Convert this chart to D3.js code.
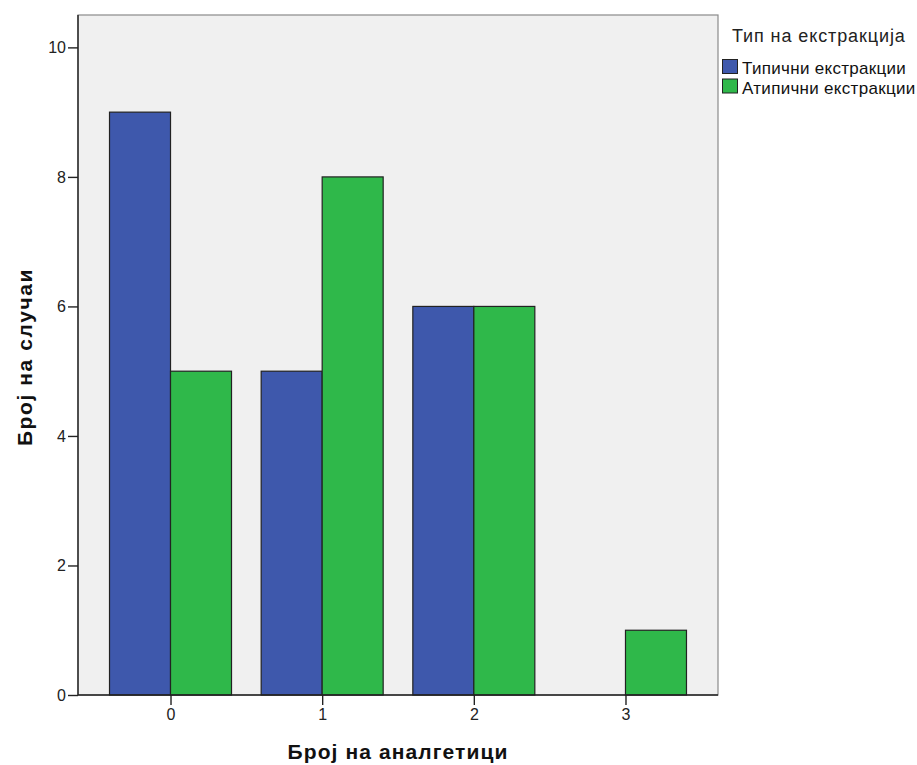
<!DOCTYPE html>
<html><head><meta charset="utf-8">
<script src="https://cdn.jsdelivr.net/npm/d3@7"></script>
<style>body{margin:0;background:#fff;} text{font-family:Arial,"Liberation Sans",sans-serif;}</style>
</head><body><svg id="c" width="917" height="765"></svg>
<script>
const categories = ["0","1","2","3"];
const seriesNames = ["Типични екстракции","Атипични екстракции"];
const typical = [9,5,6,0];
const atypical = [5,8,6,1];
const yTicks = [0,2,4,6,8,10];
const colors = ["#3e58ac","#2fb84a"];

const svg = d3.select("#c");
const L=78,R=718,T=15,B=695;
svg.append("rect").attr("x",L).attr("y",T).attr("width",R-L).attr("height",B-T).attr("fill","#f0f0f0").attr("stroke","#8a8a8a").attr("stroke-width",1.2);
const x = d3.scalePoint().domain(categories).range([L,R]).padding(0.61);
const y = d3.scaleLinear().domain([0,10.5]).range([B,T]);
const bw = 61;
const series=[typical,atypical];
series.forEach((vals,si)=>{
  svg.append("g").selectAll("rect").data(categories.map((c,i)=>({c,v:vals[i]})).filter(d=>d.v>0))
   .join("rect")
   .attr("x",d=>x(d.c)+(si===0?-bw:0)).attr("y",d=>y(d.v))
   .attr("width",bw).attr("height",d=>y(0)-y(d.v))
   .attr("fill",colors[si]).attr("stroke","#222").attr("stroke-width",1.2);
});
const ya = svg.append("g").attr("transform",`translate(${L},0)`).call(d3.axisLeft(y).tickValues(yTicks).tickSize(10).tickPadding(2).tickFormat(d3.format("d")));
const xa = svg.append("g").attr("transform",`translate(0,${B})`).call(d3.axisBottom(x).tickSize(10).tickPadding(4));
[ya,xa].forEach(a=>{a.selectAll("line").attr("stroke","#222").attr("stroke-width",1.4);a.select(".domain").attr("stroke","#222").attr("stroke-width",1.4);a.selectAll("text").attr("font-size",16).attr("fill","#222").style("font-family","Arial, 'Liberation Sans', sans-serif");});
ya.select(".domain").attr("d",`M0,${B}V${T}`);
xa.select(".domain").attr("d",`M${L},0H${R}`);
svg.append("text").attr("transform",`translate(32,${357}) rotate(-90)`).attr("text-anchor","middle").attr("font-size",21).attr("letter-spacing",1.6).attr("font-weight","bold").attr("fill","#111").text("Број на случаи");
svg.append("text").attr("x",(L+R)/2).attr("y",759).attr("text-anchor","middle").attr("font-size",21).attr("letter-spacing",1.1).attr("font-weight","bold").attr("fill","#111").text("Број на аналгетици");
svg.append("text").attr("x",732).attr("y",42).attr("font-size",18).attr("letter-spacing",0.9).attr("fill","#222").text("Тип на екстракција");
seriesNames.forEach((n,i)=>{
  svg.append("rect").attr("x",722.5).attr("y",59.5+i*19.5).attr("width",15).attr("height",14).attr("fill",colors[i]).attr("stroke","#222").attr("stroke-width",1);
  svg.append("text").attr("x",742).attr("y",74+i*19.5).attr("font-size",17).attr("letter-spacing",0.3).attr("fill","#111").text(n);
});
</script></body></html>
